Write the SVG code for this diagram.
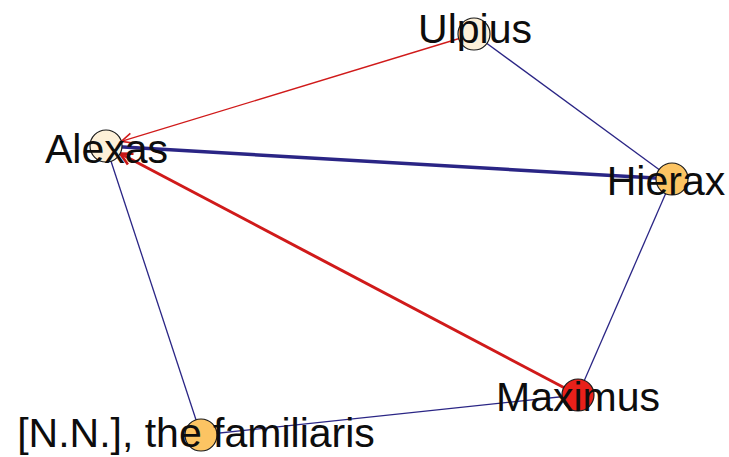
<svg xmlns="http://www.w3.org/2000/svg" width="729" height="457" viewBox="0 0 729 457">
<style>
.node{stroke:#1a1a1a;stroke-width:1.2}
.lbl{font-family:"Liberation Sans",Arial,sans-serif;font-size:41px;fill:#0d0d0d;text-anchor:middle}
.nv{stroke:#2a2585;fill:none}
.rd{stroke:#d01a1a;fill:none}
</style>
<defs>
<marker id="arr" viewBox="-13 -7 15 14" refX="0" refY="0" markerWidth="15" markerHeight="14" markerUnits="userSpaceOnUse" orient="auto">
<path d="M-11,-5 L0,0 L-11,5" fill="none" stroke="#d01a1a" stroke-width="1.6"/>
</marker>
<marker id="arr2" viewBox="-15 -8 17 16" refX="0" refY="0" markerWidth="17" markerHeight="16" markerUnits="userSpaceOnUse" orient="auto">
<path d="M-12,-6 L0,0 L-12,6" fill="none" stroke="#c81515" stroke-width="2.6"/>
</marker>
</defs>
<rect width="729" height="457" fill="#ffffff"/>
<g id="connectors">
<line class="nv" x1="474" y1="34" x2="672" y2="179" stroke-width="1.3"/>
<line class="nv" x1="106" y1="146" x2="672" y2="179" stroke-width="3.5"/>
<line class="nv" x1="672" y1="179" x2="578" y2="395" stroke-width="1.3"/>
<line class="nv" x1="578" y1="395" x2="201" y2="435" stroke-width="1.3"/>
<line class="nv" x1="106" y1="146" x2="201" y2="435" stroke-width="1.3"/>
<line class="rd" x1="474" y1="34" x2="121.3" y2="141.4" stroke-width="1.4" marker-end="url(#arr)"/>
<line class="rd" x1="578" y1="395" x2="120.1" y2="153.5" stroke-width="3" stroke="#c81515" marker-end="url(#arr2)"/>
</g>
<g id="node-ulpius">
<circle class="node" cx="474" cy="34" r="16" fill="#fdf0d8"/>
<text class="lbl" x="475" y="43">Ulpius</text>
</g>
<g id="node-alexas">
<circle class="node" cx="106" cy="146" r="16" fill="#fdf0d8"/>
<text class="lbl" x="106.5" y="163">Alexas</text>
</g>
<g id="node-hierax">
<circle class="node" cx="672" cy="179" r="16" fill="#fcc463"/>
<text class="lbl" x="666" y="195">Hierax</text>
</g>
<g id="node-maximus">
<circle class="node" cx="578" cy="395" r="16" fill="#e8201a"/>
<text class="lbl" x="578" y="411">Maximus</text>
</g>
<g id="node-nn">
<circle class="node" cx="201" cy="435" r="16" fill="#fcc463"/>
<text class="lbl" x="196" y="447">[N.N.], the familiaris</text>
</g>
</svg>
